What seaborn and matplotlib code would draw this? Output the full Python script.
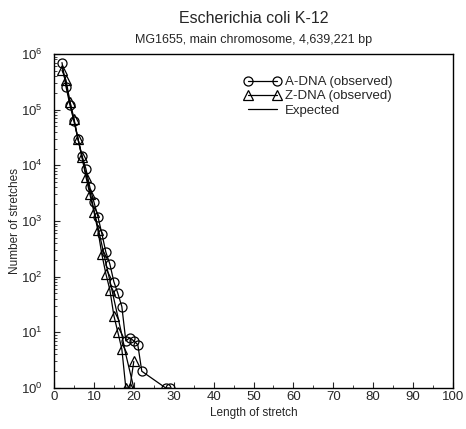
import numpy as np
import pandas as pd
import matplotlib
matplotlib.use('Agg')
import matplotlib.pyplot as plt
import seaborn as sns

# values
a_len = [2, 3, 4, 5, 6, 7, 8, 9, 10, 11, 12, 13, 14, 15, 16, 17, 18, 19, 20, 21, 22, 28, 29]
a_count = [7.0e5, 2.6e5, 1.2e5, 6.2e4, 3.0e4, 1.5e4, 8.6e3, 4.0e3, 2.2e3, 1.2e3, 590, 275, 168,
           81, 50, 29, 7, 8, 7, 6, 2, 1, 1]

z_len = [2, 3, 4, 5, 6, 7, 8, 9, 10, 11, 12, 13, 14, 15, 16, 17, 18, 19, 20]
z_count = [5.1e5, 3.4e5, 1.4e5, 6.9e4, 3.0e4, 1.4e4, 6.2e3, 3.0e3, 1.47e3, 680, 250, 112, 58,
           20, 10, 5, 1, 1, 3]

exp_len = [2, 3, 4, 5, 6, 7, 8, 9, 10, 11, 12, 13, 14, 15, 16, 17, 18, 19, 20]
exp_count = [6.0e5, 2.9e5, 1.35e5, 6.5e4, 3.0e4, 1.45e4, 7.0e3, 3.4e3, 1.6e3, 780, 370, 175, 85,
             40, 19, 9, 4, 2, 1]

title = "Escherichia coli K-12"
subtitle = "MG1655, main chromosome, 4,639,221 bp"

sns.set_style("ticks")
plt.rcParams['font.family'] = ['Liberation Sans', 'DejaVu Sans']

fig = plt.figure(figsize=(4.66, 4.29), dpi=100)
ax = fig.add_axes([0.1159, 0.0956, 0.8562, 0.7786])

sns.lineplot(x=a_len, y=a_count, ax=ax, color='black', lw=0.9, marker='o', ms=6.5,
             markerfacecolor='none', markeredgecolor='black', markeredgewidth=0.9,
             label='A-DNA (observed)')
sns.lineplot(x=z_len, y=z_count, ax=ax, color='black', lw=0.9, marker='^', ms=6.5,
             markerfacecolor='none', markeredgecolor='black', markeredgewidth=0.9,
             label='Z-DNA (observed)')
sns.lineplot(x=exp_len, y=exp_count, ax=ax, color='black', lw=0.9, label='Expected')

ax.set_yscale('log')
ax.set_xlim(0, 100)
ax.set_ylim(1, 1e6)
ax.set_yticks([10.0 ** k for k in range(7)])
ax.set_xticks(range(0, 101, 10))
ax.set_xticks(range(5, 100, 10), minor=True)
ax.tick_params(which='both', direction='in', top=False, right=False, labelsize=9.5)
ax.tick_params(which='major', length=4, width=0.8)
ax.tick_params(which='minor', length=2, width=0.6)
ax.tick_params(axis='y', which='major', pad=8)
ax.tick_params(axis='x', which='major', pad=2)
for s in ax.spines.values():
    s.set_visible(True)
    s.set_color('black')
    s.set_linewidth(1)

ax.set_xlabel('Length of stretch', fontsize=8.5, labelpad=3)
ax.set_ylabel('Number of stretches', fontsize=8.5, labelpad=0)

fig.text(0.544, 0.958, title, ha='center', va='center', fontsize=11.5)
fig.text(0.544, 0.906, subtitle, ha='center', va='center', fontsize=9)

leg = ax.legend(loc='upper left', bbox_to_anchor=(0.464, 0.95), frameon=False, fontsize=9.5,
                numpoints=2, handlelength=2.8, handletextpad=0.3, labelspacing=0.15,
                borderaxespad=0)

fig.savefig('out.png', dpi=100)
